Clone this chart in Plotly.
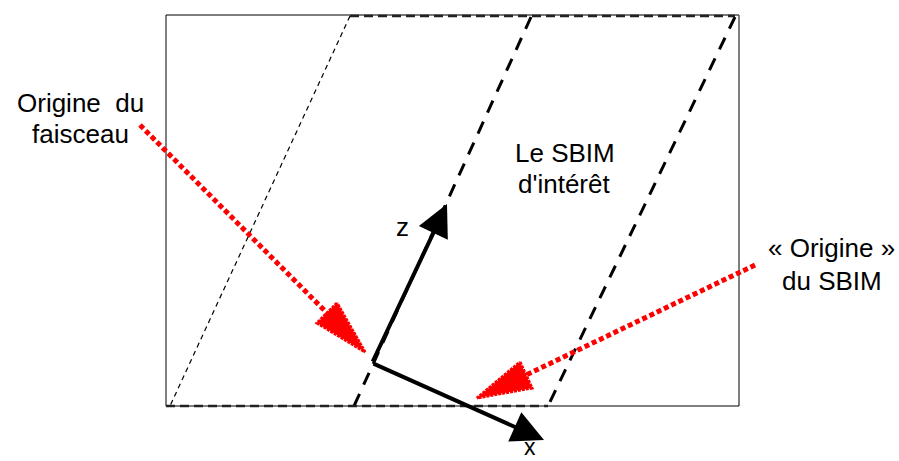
import plotly.graph_objects as go

W, H = 899, 461

# frame rectangle (solid)
frame_x = [166, 739, 739, 166, 166]
frame_y = [15, 15, 406, 406, 15]

# dashed SBIM boundaries
thin_x = [350, 170]
thin_y = [16, 406]
mid_x = [531, 354]
mid_y = [17, 406]
right_x = [735, 548]
right_y = [17, 406]
top_x = [350, 735]
top_y = [16, 16]
bot_x = [166, 548]
bot_y = [406, 406]

# black axes (origin, z tip, x tip)
axis_origin = (372, 363)
z_tip = (447, 204)
x_tip = (544, 440)

# red dotted arrows: line start, head base corners, tip
red1_line_x = [140, 329]
red1_line_y = [125, 315]
red1_head_x = [337, 317, 365, 337]
red1_head_y = [303, 323, 352, 303]

red2_line_x = [755, 526]
red2_line_y = [265, 375]
red2_head_x = [520, 532, 477, 520]
red2_head_y = [362, 388, 398, 362]

labels = ["Origine  du", "faisceau", "Le SBIM", "d'intérêt",
          "« Origine »", "du SBIM", "z"]
label_x = [80, 80, 565, 564, 831, 832, 402]
label_y = [103, 134, 153, 184, 248, 281, 227]
x_label = "x"
x_label_pos = (530, 461)

fig = go.Figure()

def line(xs, ys, color="black", width=1, dash="solid"):
    fig.add_trace(go.Scatter(x=xs, y=ys, mode="lines",
                             line=dict(color=color, width=width, dash=dash),
                             hoverinfo="skip", showlegend=False))

line(frame_x, frame_y, "black", 1)
line(top_x[:1] + [739], [15, 15], "#777777", 1.5)
line(thin_x, thin_y, "black", 1.2, "5px,4px")
line(mid_x, mid_y, "black", 3, "13px,10px")
line(right_x, right_y, "black", 3, "13px,10px")
line(top_x, top_y, "#222222", 2.5, "9px,5px")
line(bot_x, bot_y, "#222222", 2.5, "9px,5px")

# red dotted arrows
line(red1_line_x, red1_line_y, "red", 5, "5px,3px")
line(red2_line_x, red2_line_y, "red", 5, "5px,3px")
for hx, hy in [(red1_head_x, red1_head_y), (red2_head_x, red2_head_y)]:
    fig.add_trace(go.Scatter(x=hx, y=hy, mode="lines", fill="toself",
                             fillcolor="red",
                             line=dict(color="red", width=3, dash="3px,1px"),
                             hoverinfo="skip", showlegend=False))

# black axis arrows
for tip in (z_tip, x_tip):
    fig.add_annotation(x=tip[0], y=tip[1], ax=axis_origin[0], ay=axis_origin[1],
                       xref="x", yref="y", axref="x", ayref="y",
                       showarrow=True, arrowhead=2, arrowsize=1.6,
                       arrowwidth=4, arrowcolor="black", text="")

font = dict(family="Liberation Sans, Arial", size=26, color="black")
for t, x, y in zip(labels, label_x, label_y):
    fig.add_annotation(x=x, y=y, xref="x", yref="y", text=t, showarrow=False,
                       font=font, xanchor="center", yanchor="middle")
fig.add_annotation(x=x_label_pos[0], y=x_label_pos[1], xref="x", yref="y",
                   text=x_label, showarrow=False, borderpad=0,
                   font=dict(family="Liberation Sans, Arial", size=23,
                             color="black"),
                   xanchor="center", yanchor="bottom")

fig.update_layout(
    width=W, height=H, margin=dict(l=0, r=0, t=0, b=0),
    paper_bgcolor="white", plot_bgcolor="white",
    xaxis=dict(range=[0, W], visible=False, fixedrange=True),
    yaxis=dict(range=[H, 0], visible=False, fixedrange=True),
)

fig.write_html("out.html", config={"displayModeBar": False},
               post_script="document.body.style.margin='0';"
                           "document.body.style.overflow='hidden';")
